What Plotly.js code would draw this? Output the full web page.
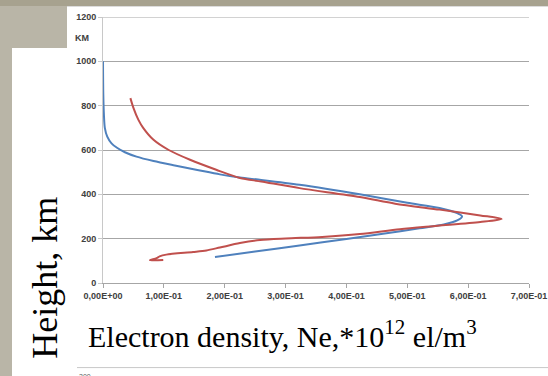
<!DOCTYPE html>
<html>
<head>
<meta charset="utf-8">
<script src="https://cdn.plot.ly/plotly-3.0.1.min.js"></script>
<style>
  html, body { margin: 0; padding: 0; }
  body { width: 548px; height: 376px; position: relative; overflow: hidden; background: #b9b5a7; }
  #topstrip { position: absolute; left: 0; top: 0; width: 548px; height: 6px; background: #a7a28f; }
  #boxA { position: absolute; left: 67px; top: 6px; width: 481px; height: 370px; background: #ffffff; border-top: 1px solid #dcdcdc; box-sizing: border-box; }
  #boxB { position: absolute; left: 12px; top: 48px; width: 536px; height: 328px; background: #ffffff; }
  #chart { position: absolute; left: 0; top: 0; width: 548px; height: 376px; }
</style>
</head>
<body>
<div id="topstrip"></div>
<div id="boxA"></div>
<div id="boxB"></div>
<div id="chart"></div>
<script>
// Blue profile (density, height km), bottom to top
const blueDensity = [0.184, 0.25, 0.323, 0.40, 0.46, 0.52, 0.56, 0.582, 0.590, 0.582, 0.553, 0.50, 0.422, 0.323, 0.26, 0.225, 0.192, 0.155, 0.118, 0.083, 0.055, 0.036, 0.023, 0.014, 0.007, 0.003, 0.0015, 0.0005, 0.0];
const blueHeight  = [117, 142, 169, 199, 222, 247, 264, 282, 300, 315, 338, 362, 400, 443, 465, 476, 490, 510, 530, 550, 570, 590, 610, 630, 660, 700, 760, 850, 1000];

// Red profile (density, height km), bottom to top
const redDensity = [0.099, 0.077, 0.088, 0.093, 0.104, 0.148, 0.170, 0.192, 0.225, 0.258, 0.30, 0.36, 0.422, 0.488, 0.55, 0.62, 0.655, 0.62, 0.553, 0.48, 0.422, 0.323, 0.26, 0.225, 0.186, 0.143, 0.108, 0.083, 0.066, 0.058, 0.05, 0.045];
const redHeight  = [104, 102, 112, 120, 128, 140, 147, 160, 180, 194, 201, 208, 221, 243, 258, 275, 289, 305, 331, 358, 388, 428, 458, 474, 511, 556, 600, 646, 700, 737, 790, 834];

const xTickVals = [0, 0.1, 0.2, 0.3, 0.4, 0.5, 0.6, 0.7];
const xTickText = ['0,00E+00', '1,00E-01', '2,00E-01', '3,00E-01', '4,00E-01', '5,00E-01', '6,00E-01', '7,00E-01'];

const traces = [
  { x: blueDensity, y: blueHeight, type: 'scatter', mode: 'lines',
    line: { color: '#4f81bd', width: 2, shape: 'spline', smoothing: 0.8 }, hoverinfo: 'skip' },
  { x: redDensity, y: redHeight, type: 'scatter', mode: 'lines',
    line: { color: '#c0504d', width: 2, shape: 'spline', smoothing: 0.8 }, hoverinfo: 'skip' }
];

const tickFont = { family: 'Liberation Sans, Arial, sans-serif', size: 9, color: '#404040', weight: 'bold' };

const layout = {
  width: 548, height: 376,
  margin: { l: 103, r: 19, t: 17, b: 93 },
  paper_bgcolor: 'rgba(0,0,0,0)',
  plot_bgcolor: 'rgba(0,0,0,0)',
  showlegend: false,
  xaxis: {
    range: [0, 0.7], tickvals: xTickVals, ticktext: xTickText,
    showgrid: false, zeroline: false, showline: true, linecolor: '#a6a6a6', linewidth: 1,
    ticks: 'outside', ticklen: 4, tickcolor: '#a6a6a6', tickfont: tickFont, fixedrange: true
  },
  yaxis: {
    range: [0, 1200], dtick: 200, tick0: 0,
    showgrid: true, gridcolor: '#a6a6a6', gridwidth: 1, zeroline: false,
    showline: true, linecolor: '#c8c8c8', linewidth: 1,
    ticks: 'outside', ticklen: 4, tickcolor: '#c8c8c8', tickfont: tickFont, fixedrange: true
  },
  shapes: [
    { type: 'line', xref: 'paper', yref: 'y', x0: 0, x1: 1, y0: 1200, y1: 1200,
      line: { color: '#a6a6a6', width: 1 } },
    { type: 'line', xref: 'paper', yref: 'paper', x0: -0.061, x1: 1.05, y0: -0.318, y1: -0.318,
      line: { color: '#c8c8c8', width: 1 } }
  ],
  annotations: [
    { text: 'KM', xref: 'paper', yref: 'paper', x: -0.071, y: 0.922, xanchor: 'left', yanchor: 'middle', showarrow: false,
      font: { family: 'Liberation Sans, Arial, sans-serif', size: 9, color: '#404040', weight: 'bold' } },
    { text: 'Electron density, Ne,*10<sup>12</sup> el/m<sup>3</sup>', xref: 'paper', yref: 'paper',
      x: -0.04, y: -0.19, xanchor: 'left', yanchor: 'middle', showarrow: false,
      font: { family: 'Liberation Serif, Times New Roman, serif', size: 30, color: '#000000' } },
    { text: 'Height, km', xref: 'paper', yref: 'paper', x: -0.136, y: 0.02,
      xanchor: 'center', yanchor: 'middle', textangle: -90, showarrow: false,
      font: { family: 'Liberation Serif, Times New Roman, serif', size: 36, color: '#000000' } },
    { text: '300', xref: 'paper', yref: 'paper', x: -0.061, y: -0.33, xanchor: 'left', yanchor: 'top',
      showarrow: false, font: { family: 'Liberation Sans, Arial, sans-serif', size: 7, color: '#606060' } }
  ]
};

Plotly.newPlot('chart', traces, layout, { displayModeBar: false, staticPlot: true });
</script>
</body>
</html>
